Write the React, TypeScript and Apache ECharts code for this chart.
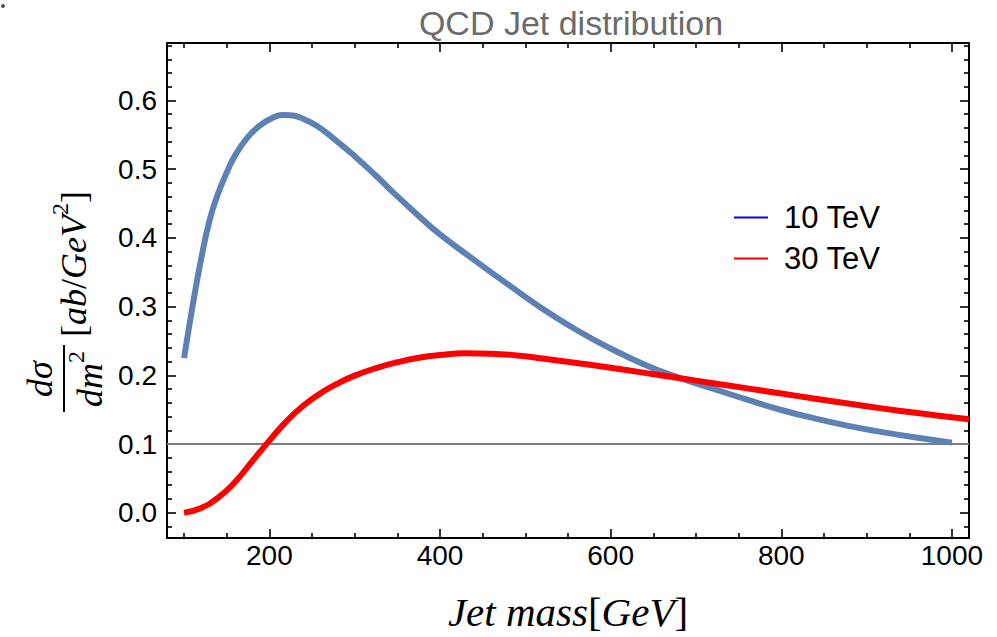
import React, { useEffect, useRef } from "react";
import * as echarts from "echarts";

// ---- data ----
const mass10 = [100, 110, 120, 130, 140, 150, 160, 175, 190, 205, 215, 225, 240, 255, 275, 300, 325, 350, 375, 400, 440, 480, 520, 560, 600, 640, 680, 720, 760, 800, 840, 880, 920, 960, 1000];
const sigma10 = [0.225, 0.301, 0.369, 0.426, 0.465, 0.495, 0.5205, 0.547, 0.5646, 0.5755, 0.579, 0.5785, 0.573, 0.5635, 0.545, 0.519, 0.4905, 0.4605, 0.432, 0.405, 0.368, 0.332, 0.297, 0.266, 0.239, 0.2155, 0.1965, 0.1805, 0.1645, 0.1495, 0.137, 0.126, 0.117, 0.109, 0.102];

const mass30 = [100, 120, 140, 160, 180, 200, 220, 240, 260, 280, 300, 325, 350, 375, 400, 430, 460, 490, 520, 560, 600, 640, 680, 720, 760, 800, 840, 880, 920, 960, 1000, 1020];
const sigma30 = [0.0, 0.007, 0.022, 0.045, 0.075, 0.105, 0.133, 0.156, 0.174, 0.188, 0.1995, 0.2105, 0.219, 0.2255, 0.2295, 0.232, 0.2315, 0.229, 0.2245, 0.218, 0.211, 0.2035, 0.196, 0.1885, 0.181, 0.1735, 0.166, 0.1585, 0.1515, 0.145, 0.139, 0.136];

const refMass = [80, 1020];
const refSigma = [0.1, 0.1];

const seriesNames = ["10 TeV", "30 TeV"];
const xMajor = [200, 400, 600, 800, 1000];
const xMinor = [100, 150, 250, 300, 350, 450, 500, 550, 650, 700, 750, 850, 900, 950];
const yMajor = [0, 0.1, 0.2, 0.3, 0.4, 0.5, 0.6];
const yMinor = [-0.02, 0.02, 0.04, 0.06, 0.08, 0.12, 0.14, 0.16, 0.18, 0.22, 0.24, 0.26, 0.28, 0.32, 0.34, 0.36, 0.38, 0.42, 0.44, 0.46, 0.48, 0.52, 0.54, 0.56, 0.58, 0.62, 0.64, 0.66, 0.68];

const X_MIN = 80;
const X_MAX = 1020;
const Y_MIN = -0.0368;
const Y_MAX = 0.6837;

const SANS = '"Liberation Sans", Arial, sans-serif';
const SERIF = '"Liberation Serif", "DejaVu Serif", serif';

function xAxisDef(position: string, ticks: number[], len: number, labels: boolean, line: boolean) {
  return {
    type: "value",
    position,
    min: X_MIN,
    max: X_MAX,
    axisLine: { show: line, onZero: false, lineStyle: { color: "#000", width: 2 } },
    axisTick: { show: true, inside: true, length: len, customValues: ticks, lineStyle: { color: "#000", width: 1.6 } },
    axisLabel: labels
      ? {
          show: true,
          customValues: ticks,
          margin: 3,
          color: "#000",
          fontSize: 28,
          fontFamily: SANS,
          formatter: (v: number) => String(v),
        }
      : { show: false, customValues: ticks },
    splitLine: { show: false },
  };
}

function yAxisDef(position: string, ticks: number[], len: number, labels: boolean, line: boolean) {
  return {
    type: "value",
    position,
    min: Y_MIN,
    max: Y_MAX,
    axisLine: { show: line, onZero: false, lineStyle: { color: "#000", width: 2 } },
    axisTick: { show: true, inside: true, length: len, customValues: ticks, lineStyle: { color: "#000", width: 1.6 } },
    axisLabel: labels
      ? {
          show: true,
          customValues: ticks,
          margin: 10,
          color: "#000",
          fontSize: 28,
          fontFamily: SANS,
          formatter: (v: number) => v.toFixed(1),
        }
      : { show: false, customValues: ticks },
    splitLine: { show: false },
  };
}

const yRich = {
  i: { fontFamily: SERIF, fontStyle: "italic", fontSize: 36, lineHeight: 44, verticalAlign: "bottom", color: "#000" },
  u: { fontFamily: SERIF, fontSize: 36, lineHeight: 44, verticalAlign: "bottom", color: "#000" },
  s: { fontFamily: SERIF, fontSize: 24, lineHeight: 44, verticalAlign: "top", color: "#000" },
};

const xRich = {
  i: { fontFamily: SERIF, fontStyle: "italic", fontSize: 41, lineHeight: 41, color: "#000" },
  u: { fontFamily: SERIF, fontSize: 41, lineHeight: 41, color: "#000" },
};

export default function App() {
  const ref = useRef<HTMLDivElement>(null);

  useEffect(() => {
    if (!ref.current) return;
    const chart = echarts.init(ref.current, undefined, { renderer: "svg" });
    const option = {
      animation: false,
      backgroundColor: "#fff",
      textStyle: { fontFamily: SANS },
      title: {
        text: "QCD Jet distribution",
        left: 566,
        top: 1,
        textAlign: "center",
        textStyle: { color: "#6b6b6b", fontSize: 34, fontWeight: "normal", fontFamily: SANS },
      },
      legend: {
        orient: "vertical",
        left: 729,
        top: 197,
        icon: "rect",
        itemWidth: 34,
        itemHeight: 2,
        itemGap: 10,
        selectedMode: false,
        textStyle: { fontSize: 31, color: "#000", fontFamily: SANS, padding: [0, 0, 0, 11] },
        data: [
          { name: seriesNames[0], itemStyle: { color: "#0000FF", borderWidth: 0 } },
          { name: seriesNames[1], itemStyle: { color: "#FF0000", borderWidth: 0 } },
        ],
      },
      grid: { left: 167, right: 28, top: 43, bottom: 99, containLabel: false },
      xAxis: [
        xAxisDef("bottom", xMajor, 9, true, true),
        xAxisDef("bottom", xMinor, 5, false, false),
        xAxisDef("top", xMajor, 9, false, true),
        xAxisDef("top", xMinor, 5, false, false),
      ],
      yAxis: [
        yAxisDef("left", yMajor, 9, true, true),
        yAxisDef("left", yMinor, 5, false, false),
        yAxisDef("right", yMajor, 9, false, true),
        yAxisDef("right", yMinor, 5, false, false),
      ],
      series: [
        {
          name: "ref",
          type: "line",
          data: refMass.map((m, i) => [m, refSigma[i]]),
          showSymbol: false,
          lineStyle: { color: "#7f7f7f", width: 2 },
          z: 1,
          silent: true,
        },
        {
          name: seriesNames[0],
          type: "line",
          data: mass10.map((m, i) => [m, sigma10[i]]),
          showSymbol: false,
          smooth: 0.5,
          lineStyle: { color: "#5E81B5", width: 6 },
          itemStyle: { color: "#5E81B5" },
          z: 2,
        },
        {
          name: seriesNames[1],
          type: "line",
          data: mass30.map((m, i) => [m, sigma30[i]]),
          showSymbol: false,
          smooth: 0.5,
          lineStyle: { color: "#FF0000", width: 6 },
          itemStyle: { color: "#FF0000" },
          z: 3,
        },
      ],
      graphic: [
        { type: "circle", shape: { cx: 3, cy: 6, r: 2 }, style: { fill: "#555" } },
        {
          type: "group",
          x: 62,
          y: 293,
          rotation: Math.PI / 2,
          children: [
            {
              type: "text",
              x: -86,
              y: -22,
              style: { text: "dσ", font: 'italic 36px "Liberation Serif", serif', fill: "#000", align: "center", verticalAlign: "middle" },
            },
            { type: "rect", shape: { x: -119, y: 1, width: 67, height: 2 }, style: { fill: "#000" } },
            {
              type: "text",
              x: -86,
              y: 24,
              style: { text: "{i|dm}{s|2}", rich: yRich, fill: "#000", align: "center", verticalAlign: "middle" },
            },
            {
              type: "text",
              x: -44,
              y: 8,
              style: { text: "{u|[}{i|ab}{u|/}{i|GeV}{s|2}{u|]}", rich: yRich, fill: "#000", align: "left", verticalAlign: "middle" },
            },
          ],
        },
        {
          type: "text",
          x: 568,
          y: 612,
          style: { text: "{i|Jet mass}{u|[}{i|GeV}{u|]}", rich: xRich, fill: "#000", align: "center", verticalAlign: "middle" },
        },
      ],
    };
    chart.setOption(option as any);
    return () => chart.dispose();
  }, []);

  return <div ref={ref} style={{ position: "fixed", left: 0, top: 0, width: 997, height: 637 }} />;
}
